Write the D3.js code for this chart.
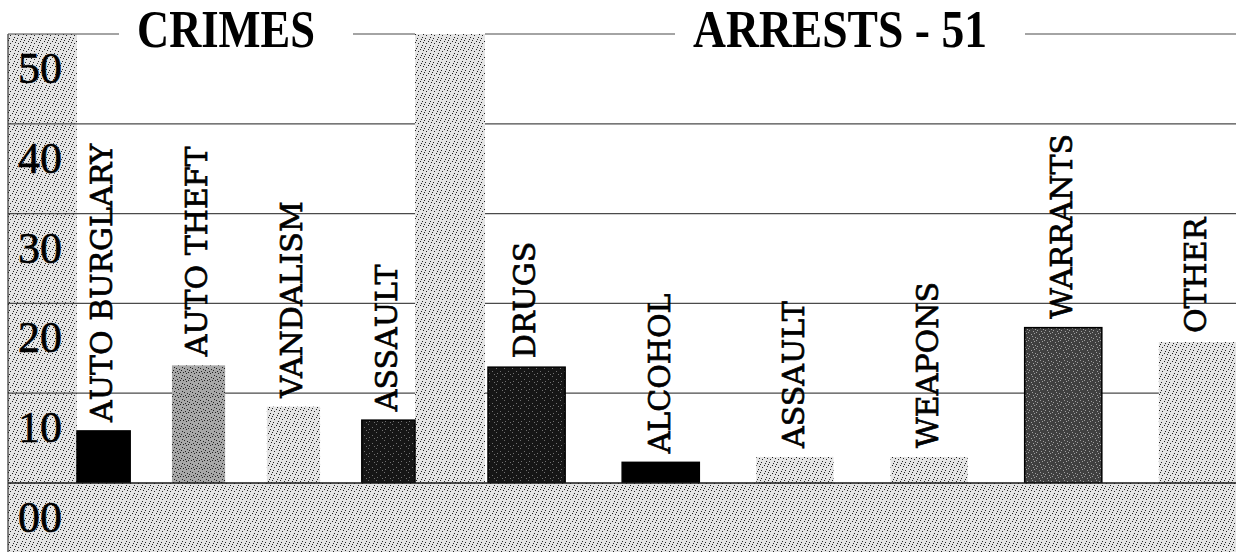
<!DOCTYPE html>
<html>
<head>
<meta charset="utf-8">
<script src="https://cdn.jsdelivr.net/npm/d3@7"></script>
<style>
  body { margin: 0; background: #fff; }
  svg { display: block; }
  .lbl { font-family: "DejaVu Serif", "Liberation Serif", serif; }
  .tick { font-family: "Liberation Serif", "Times New Roman", serif; }
  .ttl { font-family: "Liberation Serif", "Times New Roman", serif; font-weight: bold; }
</style>
</head>
<body>
<svg id="chart"></svg>
<script>
const width = 1236;
const height = 552;

// data
const yTicks = [0, 10, 20, 30, 40, 50];
const tickLabels = ["00", "10", "20", "30", "40", "50"];
const crimeCats = ["AUTO BURGLARY", "AUTO THEFT", "VANDALISM", "ASSAULT"];
const crimeVals = [5.8, 13.1, 8.5, 7.0];
const arrestCats = ["DRUGS", "ALCOHOL", "ASSAULT", "WEAPONS", "WARRANTS", "OTHER"];
const arrestVals = [12.9, 2.3, 2.9, 2.9, 17.3, 15.7];
const titles = ["CRIMES", "ARRESTS - 51"];

// bar textures, in the same order as the categories
const crimeFills = ["solid", "mid", "light", "dark"];
const arrestFills = ["dark", "solid", "light", "light", "warrant", "light"];

const svg = d3.select("#chart")
    .attr("width", width)
    .attr("height", height);

const left = 8, axisRight = 77, sepLeft = 415, sepRight = 485, bottom = height;

const y = d3.scaleLinear().domain([0, 50]).range([483, 34]);

const xCrimes = d3.scaleBand()
    .domain(crimeCats.map((d, i) => i))
    .range([axisRight, sepLeft])
    .paddingInner(0.44)
    .paddingOuter(0);

const xArrests = d3.scaleBand()
    .domain(arrestCats.map((d, i) => i))
    .range([sepRight + 3, width])
    .paddingInner(0.425)
    .paddingOuter(0);

// stipple patterns
const textures = {
    light: { bg: "#e4e4e4", dot: "#222", dots: [[0, 0], [4, 1], [2, 3], [6, 5], [1, 6], [5, 7], [7, 2]] },
    mid: { bg: "#a8a8a8", dot: "#222", dots: [[0, 0], [3, 1], [1, 3], [4, 4], [2, 5], [5, 2], [6, 7], [7, 4]] },
    dark: { bg: "#161616", dot: "#707070", dots: [[0, 0], [4, 3], [1, 5], [6, 6]] },
    warrant: { bg: "#404040", dot: "#a0a0a0", dots: [[0, 0], [3, 1], [1, 3], [4, 4], [2, 5], [5, 2], [7, 6]] },
    solid: { bg: "#000", dot: "#000", dots: [] }
};

const defs = svg.append("defs");
Object.entries(textures).forEach(([name, t]) => {
    const p = defs.append("pattern")
        .attr("id", "tex-" + name)
        .attr("patternUnits", "userSpaceOnUse")
        .attr("width", 8)
        .attr("height", 8);
    p.append("rect").attr("width", 8).attr("height", 8).attr("fill", t.bg);
    p.selectAll("rect.dot")
        .data(t.dots)
        .enter().append("rect")
        .attr("class", "dot")
        .attr("x", d => d[0])
        .attr("y", d => d[1])
        .attr("width", 1)
        .attr("height", 1)
        .attr("fill", t.dot);
});

// left axis panel
svg.append("rect")
    .attr("x", left)
    .attr("y", y(50))
    .attr("width", axisRight - left)
    .attr("height", y(0) - y(50))
    .attr("fill", "url(#tex-light)");

// gridlines
svg.append("g")
    .selectAll("line")
    .data(yTicks.filter(d => d > 0 && d < 50))
    .enter().append("line")
    .attr("x1", left)
    .attr("x2", width)
    .attr("y1", d => y(d))
    .attr("y2", d => y(d))
    .attr("stroke", "#4a4a4a")
    .attr("stroke-width", 1.2);

// separator column between the two groups
svg.append("rect")
    .attr("x", sepLeft)
    .attr("y", y(50))
    .attr("width", sepRight - sepLeft)
    .attr("height", y(0) - y(50))
    .attr("fill", "url(#tex-light)");

function drawBars(cats, vals, fills, x) {
    const g = svg.append("g");
    const rows = cats.map((c, i) => ({ c, v: vals[i], f: fills[i], i }));
    g.selectAll("rect")
        .data(rows)
        .enter().append("rect")
        .attr("x", d => x(d.i))
        .attr("y", d => y(d.v))
        .attr("width", x.bandwidth())
        .attr("height", d => y(0) - y(d.v))
        .attr("fill", d => "url(#tex-" + d.f + ")")
        .attr("stroke", d => (d.f === "dark" || d.f === "warrant" || d.f === "solid") ? "#000" : "none")
        .attr("stroke-width", 1.5);

    const lx = d => x(d.i) + x.bandwidth() / 2 - 2;
    const ly = d => y(d.v) - 9;
    g.selectAll("text")
        .data(rows)
        .enter().append("text")
        .attr("class", "lbl")
        .attr("x", lx)
        .attr("y", ly)
        .attr("dy", "0.36em")
        .attr("transform", d => `rotate(-90, ${lx(d)}, ${ly(d)})`)
        .attr("text-anchor", "start")
        .attr("font-size", 30)
        .attr("fill", "#000")
        .attr("stroke", "#000")
        .attr("stroke-width", 0.7)
        .text(d => d.c);
}

drawBars(crimeCats, crimeVals, crimeFills, xCrimes);
drawBars(arrestCats, arrestVals, arrestFills, xArrests);

// bottom band under the baseline
svg.append("rect")
    .attr("x", left)
    .attr("y", y(0))
    .attr("width", width - left)
    .attr("height", bottom - y(0))
    .attr("fill", "url(#tex-light)");

svg.append("line")
    .attr("x1", left)
    .attr("x2", width)
    .attr("y1", y(0))
    .attr("y2", y(0))
    .attr("stroke", "#1a1a1a")
    .attr("stroke-width", 1.6);

svg.append("line")
    .attr("x1", left)
    .attr("x2", left)
    .attr("y1", y(50))
    .attr("y2", bottom)
    .attr("stroke", "#333")
    .attr("stroke-width", 1.2);

// tick labels sit in the band just below their gridline
const band = y(0) - y(10);
svg.append("g")
    .selectAll("text")
    .data(yTicks)
    .enter().append("text")
    .attr("class", "tick")
    .attr("x", 18)
    .attr("y", d => y(d) + band * 0.4 + 13)
    .attr("font-size", 44)
    .attr("fill", "#000")
    .attr("stroke", "#000")
    .attr("stroke-width", 0.6)
    .text((d, i) => tickLabels[i]);

// titles with the top rule broken around them
const titleSpecs = [
    { text: titles[0], cx: 226, w: 178, from: left, to: sepLeft },
    { text: titles[1], cx: 840, w: 294, from: sepRight, to: width }
];

titleSpecs.forEach(t => {
    svg.append("text")
        .attr("class", "ttl")
        .attr("x", t.cx)
        .attr("y", 47)
        .attr("text-anchor", "middle")
        .attr("font-size", 52)
        .attr("textLength", t.w)
        .attr("lengthAdjust", "spacingAndGlyphs")
        .attr("fill", "#000")
        .text(t.text);

    const gapL = t.cx - t.w / 2 - 18;
    const gapR = t.cx + t.w / 2 + 38;
    [[t.from, gapL], [gapR, t.to]].forEach(([a, b]) => {
        svg.append("line")
            .attr("x1", a)
            .attr("x2", b)
            .attr("y1", y(50))
            .attr("y2", y(50))
            .attr("stroke", "#4a4a4a")
            .attr("stroke-width", 1.2);
    });
});
</script>
</body>
</html>
